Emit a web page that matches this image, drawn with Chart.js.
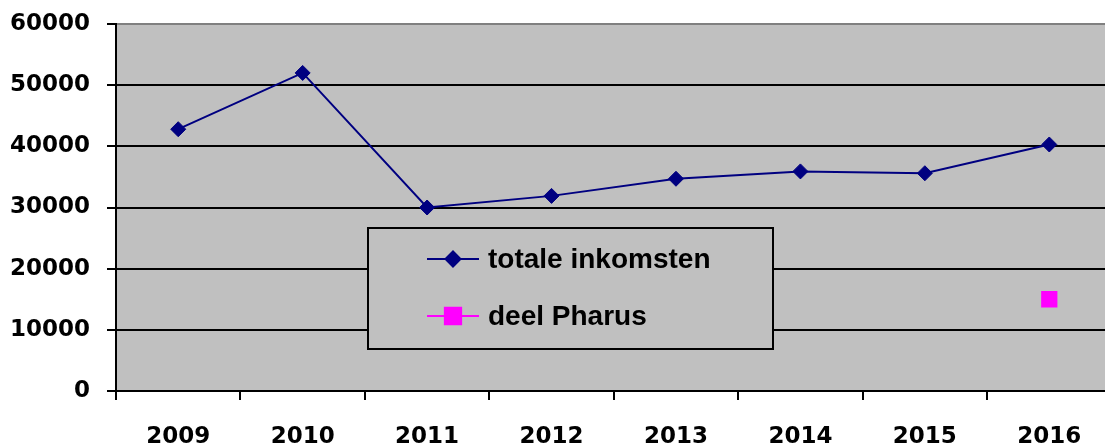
<!DOCTYPE html>
<html lang="nl">
<head>
    <meta charset="UTF-8">
    <title>Inkomsten</title>
    <script src="https://cdn.jsdelivr.net/npm/chart.js"></script>
    <style>
        html, body { margin: 0; padding: 0; background: #fff; overflow: hidden; }
        #grafiek { display: block; }
    </style>
</head>
<body>

<canvas id="grafiek" width="1123" height="446"></canvas>

<script>
    // gegevens uit de grafiek
    const jaren = ['2009', '2010', '2011', '2012', '2013', '2014', '2015', '2016'];
    const totaleInkomsten = [42800, 52000, 30000, 31900, 34700, 35900, 35600, 40300];
    const deelPharus = [null, null, null, null, null, null, null, 15000];
    const yTicks = [0, 10000, 20000, 30000, 40000, 50000, 60000];

    // grijze achtergrond van het plotgebied
    const achtergrond = {
        id: 'achtergrond',
        beforeDraw(chart) {
            const { ctx, chartArea: a } = chart;
            ctx.save();
            ctx.fillStyle = '#C0C0C0';
            ctx.fillRect(a.left, a.top, a.right - a.left, a.bottom - a.top);
            ctx.restore();
        }
    };

    // legenda in een kader, zoals in Excel
    const legendaKader = {
        id: 'legendaKader',
        afterDraw(chart) {
            const ctx = chart.ctx;
            const box = { x: 368, y: 228, w: 405, h: 121 };
            ctx.save();
            ctx.fillStyle = '#C0C0C0';
            ctx.fillRect(box.x, box.y, box.w, box.h);
            ctx.strokeStyle = '#000';
            ctx.lineWidth = 2;
            ctx.strokeRect(box.x, box.y, box.w, box.h);

            const rijen = [259, 316];
            chart.data.datasets.forEach(function (ds, i) {
                const y = rijen[i];
                ctx.strokeStyle = ds.borderColor;
                ctx.lineWidth = 2;
                ctx.beginPath();
                ctx.moveTo(427, y);
                ctx.lineTo(479, y);
                ctx.stroke();
                ctx.fillStyle = ds.pointBackgroundColor;
                ctx.strokeStyle = ds.pointBorderColor;
                Chart.helpers.drawPoint(ctx, {
                    pointStyle: ds.pointStyle,
                    radius: ds.pointRadius,
                    borderWidth: 1,
                    rotation: 0
                }, 453, y);
                ctx.fillStyle = '#000';
                ctx.font = 'bold 28px "Liberation Sans", Arial, sans-serif';
                ctx.textBaseline = 'middle';
                ctx.textAlign = 'left';
                ctx.fillText(ds.label, 488, y + 1);
            });
            ctx.restore();
        }
    };

    const dados = {
        labels: jaren,
        datasets: [{
            label: 'totale inkomsten',
            data: totaleInkomsten,
            borderColor: '#000080',
            backgroundColor: '#000080',
            borderWidth: 2,
            pointStyle: 'rectRot',
            pointRadius: 7.5,
            pointBackgroundColor: '#000080',
            pointBorderColor: '#000080',
            pointBorderWidth: 1,
            tension: 0
        },
        {
            label: 'deel Pharus',
            data: deelPharus,
            borderColor: '#FF00FF',
            backgroundColor: '#FF00FF',
            borderWidth: 2,
            pointStyle: 'rect',
            pointRadius: 11.5,
            pointBackgroundColor: '#FF00FF',
            pointBorderColor: '#FF00FF',
            pointBorderWidth: 0
        }]
    };

    const tickFont = { family: '"DejaVu Sans", sans-serif', size: 23, weight: 'bold' };

    const config = {
        type: 'line',
        data: dados,
        options: {
            responsive: false,
            animation: false,
            layout: { padding: { top: 24, left: 0, right: 0, bottom: 0 } },
            plugins: {
                legend: { display: false },
                tooltip: { enabled: false }
            },
            scales: {
                x: {
                    offset: true,
                    grid: {
                        offset: true,
                        drawOnChartArea: false,
                        drawTicks: true,
                        tickLength: 9,
                        color: '#000',
                        lineWidth: 2
                    },
                    border: { display: true, color: '#000', width: 2 },
                    ticks: { color: '#000', font: tickFont, padding: 23, maxRotation: 0 },
                    afterFit(scale) { scale.height = 55; }
                },
                y: {
                    min: 0,
                    max: 60000,
                    afterBuildTicks(scale) {
                        scale.ticks = yTicks.map(function (v) { return { value: v }; });
                    },
                    grid: {
                        color: function (c) { return c.tick && c.tick.value === 60000 ? '#808080' : '#000'; },
                        lineWidth: 2,
                        drawTicks: true,
                        tickLength: 9,
                        tickColor: '#000'
                    },
                    border: { display: true, color: '#000', width: 2 },
                    ticks: {
                        color: '#000',
                        font: tickFont,
                        padding: 17,
                        callback: function (v) { return String(v); }
                    },
                    afterFit(scale) {
                        scale.width = 116;
                        scale.paddingTop = 0;
                        scale.paddingBottom = 0;
                    }
                }
            }
        },
        plugins: [achtergrond, legendaKader]
    };

    new Chart(document.getElementById('grafiek'), config);
</script>

</body>
</html>
